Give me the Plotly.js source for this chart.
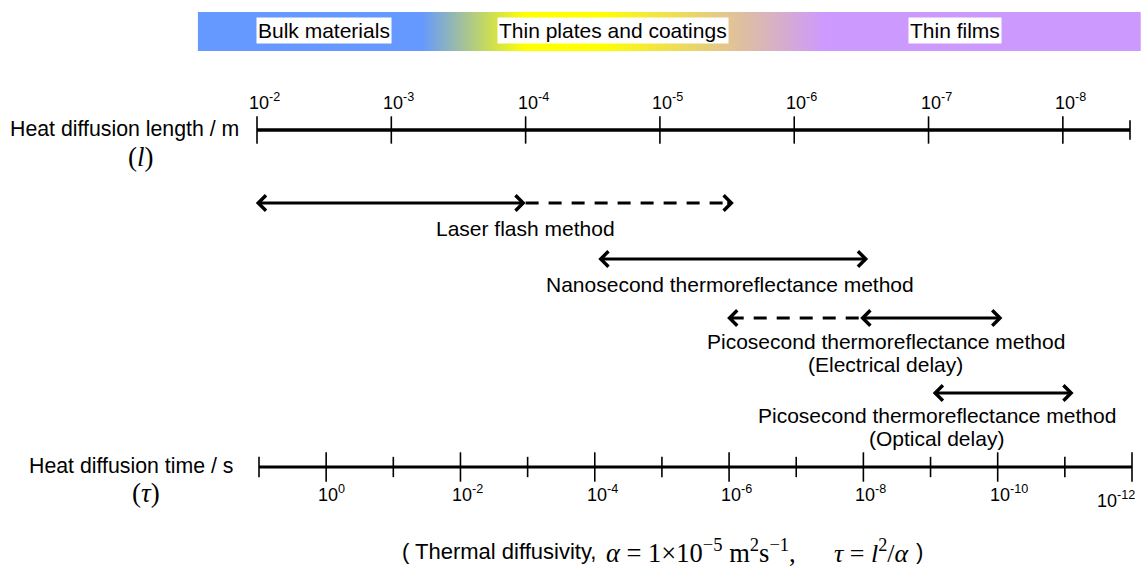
<!DOCTYPE html>
<html><head><meta charset="utf-8">
<script src="https://cdn.plot.ly/plotly-3.0.1.min.js"></script>
<style>html,body{margin:0;padding:0;background:#fff}</style>
</head><body><div id="chart" style="width:1147px;height:578px"></div>
<script>
// ---------- data ----------
// Heat diffusion length axis (m): exponents of 10
const lengthTickExps = [-2, -3, -4, -5, -6, -7, -8];
const lengthAxisEndExp = -8.5;
// Heat diffusion time axis (s): exponents of 10  (tau = l^2 / alpha, alpha = 1e-5)
const timeTickExps = [1, 0, -1, -2, -3, -4, -5, -6, -7, -8, -9, -10, -11, -12];
const timeLabelExps = [0, -2, -4, -6, -8, -10, -12];
// Material regions (band across the top)
const regionNames = ['Bulk materials', 'Thin plates and coatings', 'Thin films'];
const regionCenterExps = [-2.5, -4.65, -7.2];
const bandStartExp = -1.56, bandEndExp = -8.58;
const bandColors = ['#6699ff', '#6699ff', '#ffff00', '#ffff00', '#cc99ff', '#cc99ff'];
const bandStops = [0, 0.238, 0.347, 0.427, 0.666, 1];
// Measurement methods: ranges of heat diffusion length (exponent of 10)
const methodLines1 = ['Laser flash method', 'Nanosecond thermoreflectance method',
  'Picosecond thermoreflectance method', 'Picosecond thermoreflectance method'];
const methodLines2 = ['', '', '(Electrical delay)', '(Optical delay)'];
const solidFromExp = [-1.98, -4.53, -6.48, -7.02];
const solidToExp = [-4, -6.55, -7.55, -8.08];
const dashedFromExp = [-4, null, -6.48, null];
const dashedToExp = [-5.55, null, -5.5, null];
const labelCenterExps = [-4, -5.52, -6.68, -7.06];

// ---------- layout constants (pixel rows) ----------
const W = 1147, H = 578;
const LX0 = 257, LX1 = 1130;           // length axis pixel extent
const TX0 = 259, TX1 = 1132;           // time axis pixel extent
const ppdL = (LX1 - LX0) / (lengthTickExps[0] - lengthAxisEndExp);
const ppdT = (TX1 - TX0) / (timeTickExps[0] - timeTickExps[timeTickExps.length - 1]);
const BAND_Y0 = 12, BAND_Y1 = 51, BOX_Y = 30.5;
const LEN_Y = 130, LEN_LAB_Y = 101;
const TIME_Y = 467, TIME_LAB_Y = 493;
const rowY = [203, 259, 318, 393];
const lab1Y = [228, 284, 341, 415];
const lab2Y = [null, null, 364, 438];
const FOOT_Y = 551;
const SANS = 'Liberation Sans, Arial, sans-serif';
const SERIF = 'Liberation Serif, Times New Roman, serif';

const p10 = e => Math.pow(10, e);
const traces = [];
const ann = [];

// colour band
const cs = bandStops.map((s, i) => [s, bandColors[i]]);
traces.push({
  x: [p10(bandStartExp), p10(bandEndExp), p10(bandEndExp), p10(bandStartExp), p10(bandStartExp)],
  y: [BAND_Y0, BAND_Y0, BAND_Y1, BAND_Y1, BAND_Y0],
  mode: 'lines', line: {width: 0}, fill: 'toself',
  fillgradient: {type: 'horizontal', colorscale: cs},
  xaxis: 'x', yaxis: 'y', hoverinfo: 'skip'
});
regionNames.forEach((n, i) => ann.push({
  xref: 'x', yref: 'y', x: regionCenterExps[i], y: BOX_Y, text: n, showarrow: false,
  bgcolor: '#ffffff', borderpad: 1, font: {size: 21, color: '#000', family: SANS}
}));

// length axis
traces.push({x: [p10(lengthTickExps[0]), p10(lengthAxisEndExp)], y: [LEN_Y, LEN_Y],
  mode: 'lines', line: {color: '#000', width: 3.5}, xaxis: 'x', yaxis: 'y'});
traces.push({x: lengthTickExps.map(p10), y: lengthTickExps.map(() => LEN_Y), mode: 'markers',
  marker: {symbol: 'line-ns', size: 19.5, color: '#000', line: {color: '#000', width: 1.6}},
  xaxis: 'x', yaxis: 'y'});
traces.push({x: [p10(lengthAxisEndExp)], y: [LEN_Y], mode: 'markers',
  marker: {symbol: 'line-ns', size: 14, color: '#000', line: {color: '#000', width: 1.6}},
  xaxis: 'x', yaxis: 'y'});
lengthTickExps.forEach(e => ann.push({
  xref: 'x', yref: 'y', x: e, y: LEN_LAB_Y, text: '10<sup>' + e + '</sup>', showarrow: false,
  xanchor: 'left', xshift: -10, font: {size: 18, color: '#000', family: SANS}
}));

// time axis
traces.push({x: [p10(timeTickExps[0]), p10(timeTickExps[timeTickExps.length - 1])], y: [TIME_Y, TIME_Y],
  mode: 'lines', line: {color: '#000', width: 3.2}, xaxis: 'x2', yaxis: 'y'});
const isMajor = e => timeLabelExps.indexOf(e) >= 0;
traces.push({x: timeTickExps.filter(isMajor).map(p10), y: timeTickExps.filter(isMajor).map(() => TIME_Y),
  mode: 'markers', marker: {symbol: 'line-ns', size: 21, color: '#000', line: {color: '#000', width: 1.6}},
  xaxis: 'x2', yaxis: 'y'});
traces.push({x: timeTickExps.filter(e => !isMajor(e)).map(p10), y: timeTickExps.filter(e => !isMajor(e)).map(() => TIME_Y),
  mode: 'markers', marker: {symbol: 'line-ns', size: 14.5, color: '#000', line: {color: '#000', width: 1.6}},
  xaxis: 'x2', yaxis: 'y'});
timeLabelExps.forEach((e, i) => {
  const last = i === timeLabelExps.length - 1;
  ann.push({
    xref: 'x2', yref: 'y', x: e, y: TIME_LAB_Y, text: '10<sup>' + e + '</sup>', showarrow: false,
    xanchor: last ? 'right' : 'left', xshift: last ? 5 : -10, yshift: last ? -6 : 0,
    font: {size: 18, color: '#000', family: SANS}
  });
});

// method arrows
methodLines1.forEach((n, i) => {
  const y = rowY[i];
  ann.push({xref: 'x', yref: 'y', axref: 'x', ayref: 'y', x: solidToExp[i], y: y,
    ax: solidFromExp[i], ay: y, text: '', showarrow: true, arrowside: 'end+start',
    arrowhead: 4, startarrowhead: 4, arrowsize: 1, startarrowsize: 1, arrowwidth: 3,
    arrowcolor: '#000', standoff: 0, startstandoff: 0});
  if (dashedFromExp[i] !== null) {
    const a = dashedFromExp[i], b = dashedToExp[i];
    const dir = Math.sign(a - b);
    traces.push({x: [p10(a), p10(b + dir * 0.03)], y: [y, y], mode: 'lines',
      line: {color: '#000', width: 3, dash: '13px,10px'}, xaxis: 'x', yaxis: 'y'});
    ann.push({xref: 'x', yref: 'y', axref: 'x', ayref: 'y', x: b, y: y, ax: b + dir * 0.06, ay: y,
      text: '', showarrow: true, arrowhead: 4, arrowsize: 1, arrowwidth: 3, arrowcolor: '#000', standoff: 0});
  }
  ann.push({xref: 'x', yref: 'y', x: labelCenterExps[i], y: lab1Y[i], text: n, showarrow: false,
    font: {size: 21, color: '#000', family: SANS}});
  if (methodLines2[i]) ann.push({xref: 'x', yref: 'y', x: labelCenterExps[i], y: lab2Y[i],
    text: methodLines2[i], showarrow: false, font: {size: 21, color: '#000', family: SANS}});
});

// axis names
ann.push({xref: 'paper', yref: 'y', x: 241 / W, y: LEN_Y - 1, xanchor: 'right', text: 'Heat diffusion length / m',
  showarrow: false, font: {size: 21.3, color: '#000', family: SANS}});
ann.push({xref: 'paper', yref: 'y', x: 126 / W, y: 157, text: '(<i>l</i>)',
  showarrow: false, font: {size: 27, color: '#000', family: SERIF}});
ann.push({xref: 'paper', yref: 'y', x: 235 / W, y: TIME_Y - 1, xanchor: 'right', text: 'Heat diffusion time / s',
  showarrow: false, font: {size: 21.3, color: '#000', family: SANS}});
ann.push({xref: 'paper', yref: 'y', x: 130 / W, y: 493, text: '(<i>τ</i>)',
  showarrow: false, font: {size: 27, color: '#000', family: SERIF}});

// footer
ann.push({xref: 'paper', yref: 'y', x: 400 / W, y: FOOT_Y, xanchor: 'left', text: '( Thermal diffusivity,',
  showarrow: false, font: {size: 22, color: '#000', family: SANS}});
ann.push({xref: 'paper', yref: 'y', x: 604 / W, y: FOOT_Y, xanchor: 'left',
  text: '<i>α</i> = 1×10<sup>−5</sup> m<sup>2</sup>s<sup>−1</sup>,',
  showarrow: false, font: {size: 26.5, color: '#000', family: SERIF}});
ann.push({xref: 'paper', yref: 'y', x: 832 / W, y: FOOT_Y, xanchor: 'left',
  text: '<i>τ</i> = <i>l</i><sup>2</sup>/<i>α</i>',
  showarrow: false, font: {size: 26, color: '#000', family: SERIF}});
ann.push({xref: 'paper', yref: 'y', x: 914 / W, y: FOOT_Y, xanchor: 'left', text: ')',
  showarrow: false, font: {size: 22, color: '#000', family: SANS}});

const layout = {
  width: W, height: H, margin: {l: 0, r: 0, t: 0, b: 0}, showlegend: false,
  paper_bgcolor: '#fff', plot_bgcolor: '#fff',
  xaxis: {type: 'log', range: [lengthTickExps[0] + LX0 / ppdL, lengthAxisEndExp - (W - LX1) / ppdL],
    domain: [0, 1], visible: false, fixedrange: true},
  xaxis2: {type: 'log', range: [timeTickExps[0] + TX0 / ppdT, timeTickExps[timeTickExps.length - 1] - (W - TX1) / ppdT],
    domain: [0, 1], overlaying: 'x', anchor: 'y', visible: false, fixedrange: true},
  yaxis: {range: [H, 0], domain: [0, 1], visible: false, fixedrange: true},
  annotations: ann, font: {family: SANS, color: '#000'}
};
Plotly.newPlot('chart', traces, layout, {displayModeBar: false, staticPlot: true});
</script></body></html>
